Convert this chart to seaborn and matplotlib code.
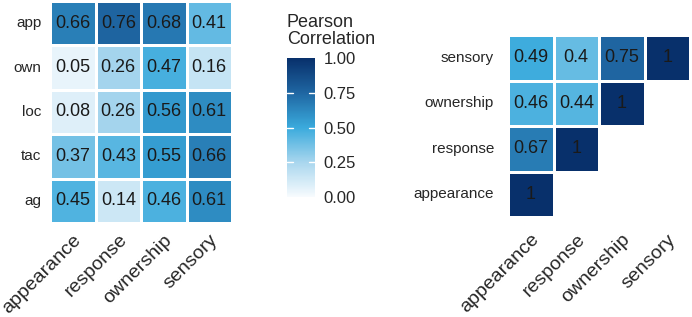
import numpy as np
import pandas as pd
import seaborn as sns
import matplotlib
matplotlib.use("Agg")
import matplotlib.pyplot as plt
from matplotlib.colors import LinearSegmentedColormap

# data
measures = ['appearance', 'response', 'ownership', 'sensory']
subscales = ['app', 'own', 'loc', 'tac', 'ag']

cross_vals = [
    [0.66, 0.76, 0.68, 0.41],
    [0.05, 0.26, 0.47, 0.16],
    [0.08, 0.26, 0.56, 0.61],
    [0.37, 0.43, 0.55, 0.66],
    [0.45, 0.14, 0.46, 0.61],
]

# lower triangle, rows listed top to bottom
tri_rows = ['sensory', 'ownership', 'response', 'appearance']
tri_vals = [
    [0.49, 0.4, 0.75, 1],
    [0.46, 0.44, 1, np.nan],
    [0.67, 1, np.nan, np.nan],
    [1, np.nan, np.nan, np.nan],
]

cbar_ticks = [0.0, 0.25, 0.5, 0.75, 1.0]

cmap = LinearSegmentedColormap.from_list(
    'pearson', ['#F7FBFE', '#A8D6EE', '#3AAADC', '#1F66A2', '#08306B'])

sns.set_style('white')
plt.rcParams['font.family'] = ['Liberation Sans', 'DejaVu Sans']

W, H = 692, 317
fig = plt.figure(figsize=(W / 100, H / 100), dpi=100)


def px_axes(x0, y0, x1, y1):
    return fig.add_axes([x0 / W, 1 - y1 / H, (x1 - x0) / W, (y1 - y0) / H])


# left heatmap
ax1 = px_axes(50, 1, 232, 223)
df1 = pd.DataFrame(cross_vals, index=subscales, columns=measures)
sns.heatmap(df1, ax=ax1, cmap=cmap, vmin=0, vmax=1, annot=True, fmt='.2f',
            linewidths=2, linecolor='white', cbar=False,
            annot_kws={'size': 13, 'color': '#1a1a1a'})
ax1.tick_params(length=0, pad=6)
ax1.set_yticklabels(subscales, rotation=0, fontsize=11)
ax1.set_xticklabels(measures, rotation=45, ha='right', rotation_mode='anchor',
                    fontsize=14)

# right heatmap
ax2 = px_axes(508, 35, 690, 217)
df2 = pd.DataFrame(tri_vals, index=tri_rows, columns=measures)
sns.heatmap(df2, ax=ax2, cmap=cmap, vmin=0, vmax=1, annot=True, fmt='g',
            linewidths=2, linecolor='white', cbar=False,
            annot_kws={'size': 13, 'color': '#1a1a1a'})
ax2.tick_params(length=0, pad=10)
ax2.set_yticklabels(tri_rows, rotation=0, fontsize=11)
ax2.set_xticklabels(measures, rotation=45, ha='right', rotation_mode='anchor',
                    fontsize=14)

# colorbar
cax = px_axes(287, 58, 315, 197)
sm = plt.cm.ScalarMappable(cmap=cmap, norm=plt.Normalize(0, 1))
cb = fig.colorbar(sm, cax=cax, ticks=cbar_ticks)
cb.outline.set_visible(False)
cb.ax.set_yticklabels([f'{t:.2f}' for t in cbar_ticks], fontsize=12)
cb.ax.tick_params(length=0, pad=6)
for t in cbar_ticks[1:-1]:
    cax.plot([0, 0.2], [t, t], color='white', lw=1, transform=cax.get_yaxis_transform())
    cax.plot([0.8, 1], [t, t], color='white', lw=1, transform=cax.get_yaxis_transform())
fig.text(287 / W, 1 - 14 / H, 'Pearson\nCorrelation', ha='left', va='top',
         fontsize=13, linespacing=1.0)

fig.savefig('out.png', dpi=100)
